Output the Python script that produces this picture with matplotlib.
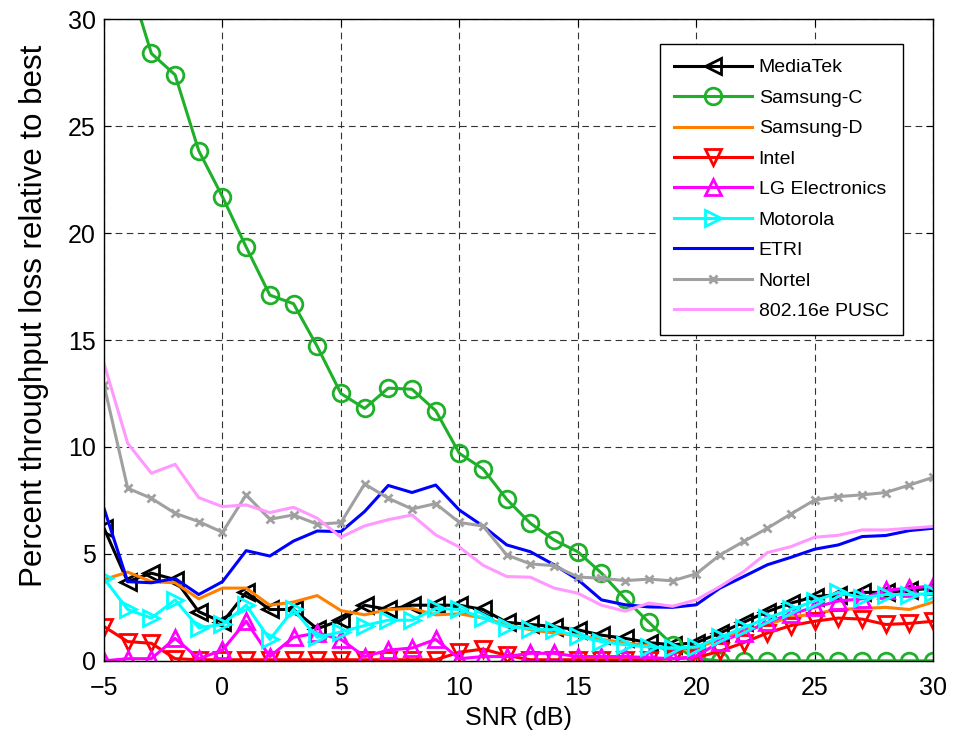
import matplotlib
matplotlib.use("Agg")
import matplotlib.pyplot as plt

plt.rcParams['font.family'] = ['Liberation Sans', 'DejaVu Sans']

snr = list(range(-5, 31))

mediatek = [6.2, 3.7, 4.1, 3.8, 2.3, 1.8, 3.2, 2.4, 2.4, 1.5, 1.9, 2.6, 2.4, 2.6, 2.6, 2.6, 2.4, 1.8,
            1.7, 1.6, 1.45, 1.2, 1.05, 0.85, 0.75, 0.85, 1.3, 1.8, 2.3, 2.7, 3.0, 3.1, 3.2, 3.2, 3.3, 3.4]
samsung_c = [36.0, 32.0, 28.4, 27.4, 23.85, 21.7, 19.35, 17.1, 16.7, 14.7, 12.5, 11.8, 12.75, 12.7,
             11.7, 9.7, 8.97, 7.55, 6.43, 5.65, 5.1, 4.1, 2.9, 1.8, 0.75, 0.1,
             0, 0, 0, 0, 0, 0, 0, 0, 0, 0]
samsung_d = [3.8, 4.15, 3.7, 3.65, 2.9, 3.4, 3.4, 2.6, 2.75, 3.05, 2.35, 2.15, 2.4, 2.45, 2.15, 2.2,
             2.0, 1.7, 1.45, 1.3, 1.2, 1.0, 0.85, 0.7, 0.5, 0.6, 1.0, 1.4, 1.7, 2.05, 2.2, 2.4, 2.45,
             2.5, 2.4, 2.75]
intel = [1.6, 0.9, 0.82, 0.1, 0.05, 0.05, 0.05, 0.05, 0.05, 0.05, 0.05, 0.05, 0.05, 0.05, 0.05, 0.4,
         0.55, 0.25, 0.05, 0.05, 0.05, 0.05, 0.05, 0.05, 0.1, 0.15, 0.45, 0.85, 1.3, 1.65, 1.85, 2.0,
         1.95, 1.7, 1.75, 1.85]
lg = [0.0, 0.1, 0.1, 1.05, 0.1, 0.5, 1.85, 0.2, 1.1, 1.3, 1.0, 0.2, 0.5, 0.6, 1.0, 0.1, 0.2, 0.2,
      0.35, 0.35, 0.2, 0.2, 0.2, 0.15, 0.1, 0.2, 0.9, 1.3, 1.8, 2.2, 2.5, 2.8, 2.9, 3.3, 3.4, 3.5]
motorola = [3.85, 2.4, 2.0, 2.85, 1.55, 1.7, 2.6, 1.0, 2.4, 1.1, 1.35, 1.65, 1.9, 1.9, 2.45, 2.4, 2.0,
            1.6, 1.5, 1.45, 1.15, 0.9, 0.75, 0.65, 0.6, 0.65, 1.1, 1.55, 2.0, 2.4, 2.8, 3.2, 2.95,
            3.1, 3.1, 3.15]
etri = [7.13, 3.7, 3.65, 3.85, 3.1, 3.7, 5.15, 4.9, 5.6, 6.07, 6.04, 6.98, 8.2, 7.87, 8.22, 7.05, 6.3,
        5.42, 5.1, 4.49, 3.8, 2.85, 2.62, 2.52, 2.5, 2.62, 3.4, 3.94, 4.49, 4.84, 5.22, 5.42, 5.81,
        5.86, 6.09, 6.2]
nortel = [12.9, 8.07, 7.6, 6.9, 6.51, 6.01, 7.76, 6.62, 6.82, 6.39, 6.46, 8.27, 7.6, 7.1, 7.35, 6.47,
          6.3, 4.95, 4.53, 4.45, 3.92, 3.86, 3.75, 3.82, 3.74, 4.07, 4.95, 5.58, 6.2, 6.87, 7.52,
          7.68, 7.76, 7.87, 8.22, 8.58]
pusc = [13.9, 10.17, 8.77, 9.19, 7.63, 7.21, 7.29, 6.93, 7.18, 6.67, 5.78, 6.31, 6.6, 6.82, 5.89,
        5.32, 4.47, 3.94, 3.91, 3.4, 3.16, 2.6, 2.32, 2.7, 2.55, 2.85, 3.47, 4.17, 5.06, 5.34, 5.78,
        5.87, 6.12, 6.12, 6.2, 6.28]

series = [
    ("MediaTek", mediatek, "black", "<", 11),
    ("Samsung-C", samsung_c, "#1fb02a", "o", 12),
    ("Samsung-D", samsung_d, "#ff8000", None, 0),
    ("Intel", intel, "#ff0000", "v", 11),
    ("LG Electronics", lg, "#ff00ff", "^", 11),
    ("Motorola", motorola, "#00ffff", ">", 11),
    ("ETRI", etri, "#0000ff", None, 0),
    ("Nortel", nortel, "#a0a0a0", "x", 6),
    ("802.16e PUSC", pusc, "#ff99ff", None, 0),
]

fig = plt.figure(figsize=(9.63, 7.4), dpi=100)
ax = fig.add_axes([0.108, 0.107, 0.861, 0.867])

for name, vals, col, mk, ms in series:
    ax.plot(snr, vals, color=col, lw=2.2, marker=mk, markersize=ms,
            markerfacecolor='none', markeredgecolor=col, markeredgewidth=2, label=name)

ax.set_xlim(-5, 30)
ax.set_ylim(0, 30)
ax.set_xticks(range(-5, 31, 5))
ax.set_yticks(range(0, 31, 5))
ax.grid(True, color='#333333', linestyle=(0, (6, 4)), lw=0.8)
ax.tick_params(direction='in', top=True, right=True, labelsize=18, length=5)
ax.tick_params(axis='x', pad=11)
ax.tick_params(axis='y', pad=6)
for s in ax.spines.values():
    s.set_linewidth(1.0)

ax.set_xlabel("SNR (dB)", fontsize=18, labelpad=4)
ax.set_ylabel("Percent throughput loss relative to best", fontsize=22.5)
ax.yaxis.set_label_coords(-0.066, 0.537)

leg = ax.legend(loc='upper right', bbox_to_anchor=(0.964, 0.961), borderaxespad=0,
                fontsize=14, handlelength=4, handletextpad=0.35, labelspacing=0.66,
                borderpad=0.75, fancybox=False, framealpha=1, edgecolor='black')
leg.get_frame().set_linewidth(1.0)

fig.savefig("out.png", dpi=100)
